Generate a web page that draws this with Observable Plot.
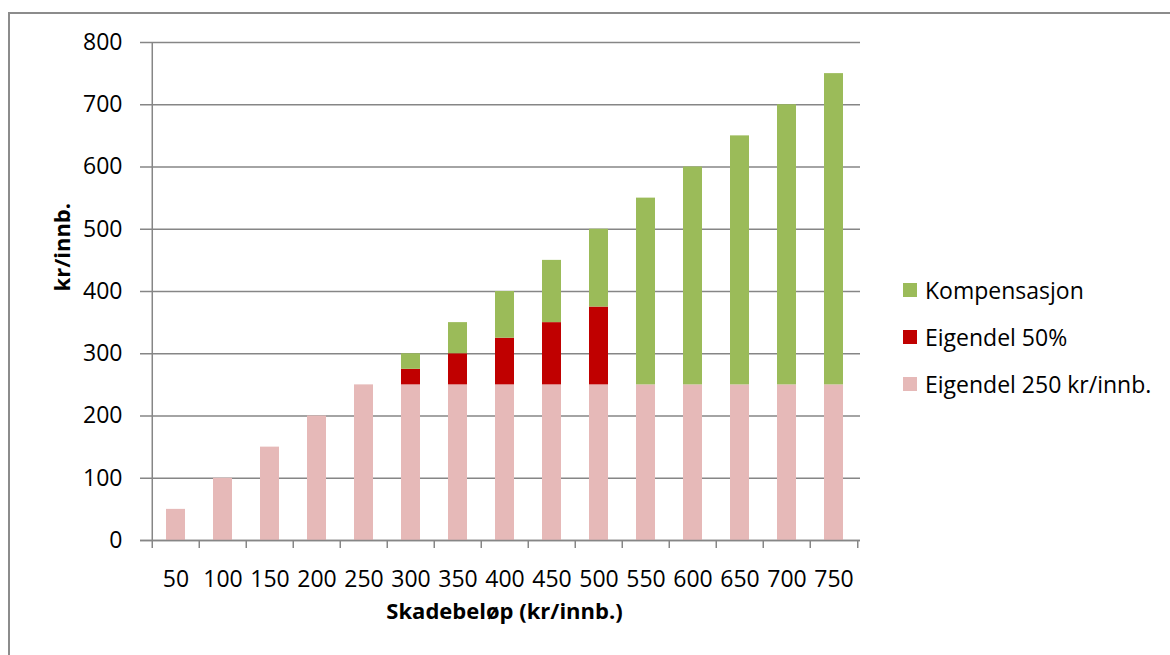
<!DOCTYPE html>
<html>
<head>
<meta charset="utf-8">
<script src="https://cdn.jsdelivr.net/npm/d3@7"></script>
<script src="https://cdn.jsdelivr.net/npm/@observablehq/plot@0.6"></script>
<style>
  html, body { margin: 0; padding: 0; background: #fff; width: 1170px; height: 655px; overflow: hidden; }
  #wrap { position: relative; width: 1170px; height: 655px; }
  #border { position: absolute; left: 8px; top: 12px; width: 1300px; height: 800px; border: 2px solid #8c8c8c; box-sizing: border-box; }
  #chart { position: absolute; left: 0; top: 0; }
  #legend { position: absolute; left: 903px; top: 266px; font-family: "Open Sans", sans-serif; font-size: 23px; color: #000; }
  .row { display: flex; align-items: center; height: 47px; }
  .sw { width: 14px; height: 14px; margin-right: 8px; flex: none; }
</style>
</head>
<body>
<div id="wrap">
  <div id="border"></div>
  <div id="chart"></div>
  <div id="legend"></div>
</div>
<script>
const categories = ["50","100","150","200","250","300","350","400","450","500","550","600","650","700","750"];
const eigendel250 = [50,100,150,200,250,250,250,250,250,250,250,250,250,250,250];
const eigendel50 = [0,0,0,0,0,25,50,75,100,125,0,0,0,0,0];
const kompensasjon = [0,0,0,0,0,25,50,75,100,125,300,350,400,450,500];
const seriesNames = ["Eigendel 250 kr/innb.","Eigendel 50%","Kompensasjon"];
const seriesColors = ["#E6B9B8","#C00000","#9BBB59"];
const yTicks = [0,100,200,300,400,500,600,700,800];
const xLabel = "Skadebeløp (kr/innb.)";
const yLabel = "kr/innb.";

const seriesValues = [eigendel250, eigendel50, kompensasjon];
const rows = [];
seriesNames.forEach((s, si) => {
  categories.forEach((c, ci) => rows.push({cat: c, series: s, value: seriesValues[si][ci]}));
});

const W = 1170, H = 655, mL = 148, mR = 310, mT = 42, mB = 115;
const pIn = 0.6, pOut = 0.3;
const step = (W - mL - mR) / (categories.length - pIn + 2 * pOut);
const grid = "#868686";

const chart = Plot.plot({
  width: W, height: H,
  marginLeft: mL, marginRight: mR, marginTop: mT, marginBottom: mB,
  style: {fontFamily: "'Open Sans', sans-serif", fontSize: "23px", color: "#000", background: "transparent"},
  x: {domain: categories, paddingInner: pIn, paddingOuter: pOut, axis: null, label: null},
  y: {domain: [0, 800], axis: null, label: null},
  color: {domain: seriesNames, range: seriesColors},
  marks: [
    Plot.ruleY(yTicks, {stroke: grid, strokeWidth: 1.5, insetLeft: -8}),
    Plot.barY(rows, Plot.stackY({order: seriesNames}, {x: "cat", y: "value", fill: "series"})),
    Plot.ruleX(categories, {x: d => d, y1: 0, y2: 0, insetBottom: -8, dx: -step / 2, stroke: grid, strokeWidth: 1.5}),
    Plot.ruleX([categories[categories.length - 1]], {x: d => d, y1: 0, y2: 0, insetBottom: -8, dx: step / 2, stroke: grid, strokeWidth: 1.5}),
    Plot.ruleX([categories[0]], {x: d => d, y1: 800, y2: 0, dx: -step / 2, stroke: grid, strokeWidth: 1.5}),
    Plot.ruleY([0], {stroke: grid, strokeWidth: 1.5, insetLeft: -8}),
    Plot.axisY(yTicks, {tickSize: 0, tickPadding: 26, label: null, fontSize: 23}),
    Plot.axisX({tickSize: 0, tickPadding: 30, label: null, fontSize: 23}),
    Plot.text([xLabel], {frameAnchor: "bottom", dy: 78, text: d => d, fontWeight: "bold", fontSize: 22}),
    Plot.text([yLabel], {frameAnchor: "left", dx: -86, text: d => d, rotate: -90, fontWeight: "bold", fontSize: 22})
  ]
});
document.getElementById("chart").appendChild(chart);

const legend = document.getElementById("legend");
[...seriesNames].reverse().forEach((s) => {
  const i = seriesNames.indexOf(s);
  const row = document.createElement("div");
  row.className = "row";
  const sw = document.createElement("span");
  sw.className = "sw";
  sw.style.background = seriesColors[i];
  const t = document.createElement("span");
  t.textContent = s;
  row.appendChild(sw);
  row.appendChild(t);
  legend.appendChild(row);
});
</script>
</body>
</html>
